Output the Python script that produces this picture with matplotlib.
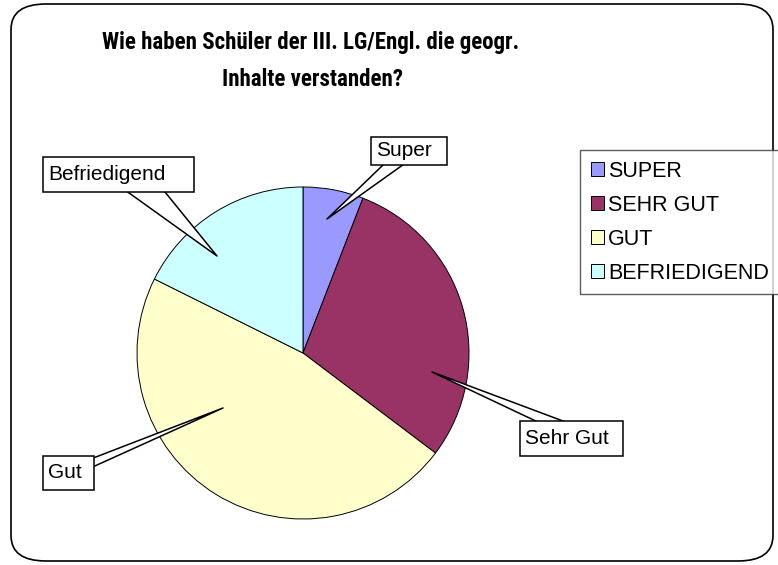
import matplotlib
matplotlib.use("Agg")
import matplotlib.pyplot as plt
import numpy as np
from matplotlib.patches import FancyBboxPatch, Rectangle, FancyArrowPatch

# Daten (Anzahl Schüler je Bewertung)
kategorien = ['SUPER', 'SEHR GUT', 'GUT', 'BEFRIEDIGEND']
beschriftungen = ['Super', 'Sehr Gut', 'Gut', 'Befriedigend']
anzahl = [1, 5, 8, 3]
farben = ['#9999FF', '#993366', '#FFFFCC', '#CCFFFF']

plt.rcParams['font.family'] = ['Liberation Sans', 'DejaVu Sans']

W, H = 778, 565
fig = plt.figure(figsize=(W / 100, H / 100), dpi=100)


def fp(x, y):
    # Pixel (von oben gemessen) -> Figure-Bruchteile
    return x / W, 1 - y / H


# Rahmen um das ganze Diagramm
rahmen = FancyBboxPatch((11 / W, 4 / H), 762 / W, 557 / H,
                        boxstyle='round,pad=0,rounding_size=0.045',
                        transform=fig.transFigure, fc='none', ec='black', lw=1.2,
                        zorder=-1)
fig.patches.append(rahmen)

# Kreis: Mittelpunkt (303, 353) px, Radius 166 px
r = 166
ax = fig.add_axes([(303 - r) / W, (H - 353 - r) / H, 2 * r / W, 2 * r / H])
wedges, _ = ax.pie(anzahl, colors=farben, startangle=90, counterclock=False,
                   radius=1, wedgeprops=dict(edgecolor='black', linewidth=0.7))
ax.set_xlim(-1, 1)
ax.set_ylim(-1, 1)
ax.set_aspect('equal')
ax.axis('off')

titel_font = ['Roboto Condensed', 'Liberation Sans', 'DejaVu Sans']
fig.text(311 / W, 1 - 43 / H, 'Wie haben Schüler der III. LG/Engl. die geogr.',
         ha='center', va='center', fontsize=16.5, fontweight='bold', family=titel_font)
fig.text(313 / W, 1 - 80 / H, 'Inhalte verstanden?',
         ha='center', va='center', fontsize=16.5, fontweight='bold', family=titel_font)

# Sprechblasen: Kasten (x0, y0, x1, y1), Zipfelansatz am Rand, Spitze, Zipfelbreite (px)
kaesten = [(371, 137, 447, 165), (520, 421, 623, 456), (43, 456, 94, 490), (43, 157, 194, 192)]
ansatz = [(392, 165), (548, 421), (94, 462), (149, 192)]
spitze = [(327, 219), (432, 372), (223, 408), (217, 256)]
breite = [12.5, 10.5, 8.0, 25.0]
einzug = [14, 20, 20, 20]

for name, k, a, s, b, d in zip(beschriftungen, kaesten, ansatz, spitze, breite, einzug):
    a = np.array(a, float)
    s = np.array(s, float)
    L = np.hypot(*(s - a))
    u = (s - a) / L
    start = a - d * u
    w0 = b * (L + d) / L
    pfeil = FancyArrowPatch(fp(*start), fp(*s), transform=fig.transFigure,
                            arrowstyle=f'wedge,tail_width={w0 / 13.889:.3f},shrink_factor=0.5',
                            mutation_scale=10, shrinkA=0, shrinkB=0,
                            fc='white', ec='black', lw=1.1, zorder=3)
    fig.add_artist(pfeil)
    x0, y0, x1, y1 = k
    kasten = Rectangle(fp(x0, y1), (x1 - x0) / W, (y1 - y0) / H, transform=fig.transFigure,
                       fc='white', ec='black', lw=1.1, zorder=4)
    fig.add_artist(kasten)
    fig.text(*fp(x0 + 5, (y0 + y1) / 2), name, ha='left', va='center',
             fontsize=15, zorder=5)

leg = fig.legend(wedges, kategorien, loc='upper left',
                 bbox_to_anchor=(580 / W, 1 - 150 / H), fontsize=15.5,
                 frameon=True, fancybox=False, edgecolor='#333333',
                 handlelength=0.6, handleheight=0.6, handletextpad=0.2,
                 labelspacing=0.6, borderpad=0.5, borderaxespad=0)
leg.get_frame().set_linewidth(1)
for h in leg.legend_handles:
    h.set_linewidth(0.7)

fig.savefig('out.png', dpi=100)
